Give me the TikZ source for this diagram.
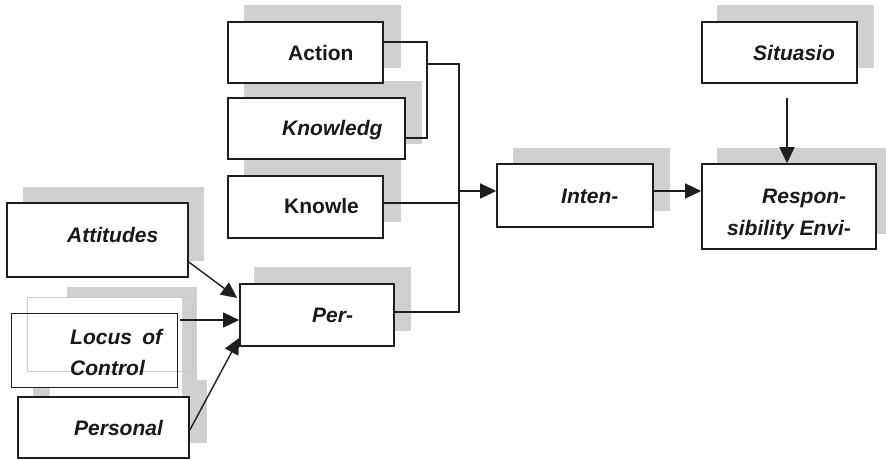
\documentclass[tikz,border=0pt]{standalone}
\usepackage{fontspec}
\setmainfont{Liberation Sans}
\usetikzlibrary{arrows.meta}
\definecolor{shadc}{RGB}{208,208,208}
\definecolor{boxc}{RGB}{30,30,30}
\definecolor{txtc}{RGB}{25,25,25}
\definecolor{thinc}{RGB}{200,200,200}
\begin{document}
\begin{tikzpicture}[x=1pt,y=-1pt,
  box/.style={draw=boxc, line width=1.6pt, fill=white, rectangle, inner sep=0pt},
  lbl/.style={font=\fontsize{21}{24}\selectfont\bfseries\itshape, text=txtc, anchor=base west, inner sep=0pt},
  lblup/.style={lbl, font=\fontsize{21}{24}\selectfont\bfseries},
  conn/.style={draw=boxc, line width=1.4pt},
  arr/.style={conn, -{Triangle[length=16pt,width=15pt]}}]
\useasboundingbox (0,0) rectangle (886,459);
% shadows
\fill[shadc] (244,5) rectangle (401,68);
\fill[shadc] (244,81) rectangle (422,144);
\fill[shadc] (244,160) rectangle (401,222);
\fill[shadc] (254,267) rectangle (411,331);
\fill[shadc] (513,148) rectangle (670,211);
\fill[shadc] (717,148) rectangle (886,234);
\fill[shadc] (717,5) rectangle (874,68);
\fill[shadc] (23,187) rectangle (204,261);
\fill[shadc] (33,380) rectangle (207,443);
\fill[shadc] (67,287) rectangle (197,380);
% boxes
\node[box, minimum width=155, minimum height=61] (act) at (305.5,52.5) {};
\node[box, minimum width=177, minimum height=61] (kn1) at (316.5,128.5) {};
\node[box, minimum width=155, minimum height=62] (kn2) at (305.5,207) {};
\node[box, minimum width=154, minimum height=62] (per) at (317,315) {};
\node[box, minimum width=156, minimum height=63] (inten) at (575,195.5) {};
\node[box, minimum width=174, minimum height=85] (resp) at (789,206.5) {};
\node[box, minimum width=155, minimum height=61] (sit) at (779.5,52.5) {};
\node[box, minimum width=181, minimum height=74] (att) at (97.5,240) {};
% locus group
\fill[white] (27,297) rectangle (182,371);
\fill[white] (50,371) rectangle (182,397);
\fill[white] (11,313) rectangle (177,387);
\draw[thinc, line width=0.8pt] (27,297) rectangle (193,371);
\node[draw=boxc, line width=0.9pt, rectangle, inner sep=0pt, minimum width=166, minimum height=74] (loc) at (94,350) {};
\node[box, minimum width=171, minimum height=61] (pers) at (103.5,427.5) {};
% labels
\node[lblup] (tact) at (288,60) {Action};
\node[lbl] (tkn1) at (282,135) {Knowledg};
\node[lblup] (tkn2) at (284,213) {Knowle};
\node[lbl] (tper) at (312,322) {Per-};
\node[lbl] (tint) at (561,203) {Inten-};
\node[lbl] (tres1) at (762,203) {Respon-};
\node[lbl] (tres2) at (727,235) {sibility Envi-};
\node[lbl] (tsit) at (753,60) {Situasio};
\node[lbl] (tatt) at (67,242) {Attitudes};
\node[lbl] (tloc1) at (70,344) {\makebox[92pt][s]{Locus of}};
\node[lbl] (tloc2) at (70,375) {Control};
\node[lbl] (tpers) at (74,435) {Personal};
% connection points
\coordinate (pact) at ([yshift=10.5pt]act.east);
\coordinate (pkn1) at ([yshift=-9.5pt]kn1.east);
\coordinate (pkn2) at ([yshift=4pt]kn2.east);
\coordinate (pper) at ([yshift=3pt]per.east);
\coordinate (ja) at (427,42);
\coordinate (jb) at (427,64);
\coordinate (jc) at (459,64);
\coordinate (jd) at (459,191);
\coordinate (psit) at ([xshift=7.5pt,yshift=-14pt]sit.south);
\coordinate (presn) at ([xshift=-2pt]resp.north);
% connectors
\draw[conn] (pact) -- (ja) -- (ja |- pkn1) -- (pkn1);
\draw[conn] (jb) -- (jc) -- (jc |- pper) -- (pper);
\draw[conn] (pkn2) -- (jc |- pkn2);
\draw[arr] (jd) -- ([yshift=4.5pt]inten.west);
\draw[arr] ([yshift=4.5pt]inten.east) -- ([yshift=15.5pt]resp.west);
\draw[arr] (psit) -- (presn);
\draw[arr] ([yshift=-22pt]att.east) -- ([yshift=17pt,xshift=-2pt]per.west);
\draw[arr] ([xshift=3pt,yshift=30pt]loc.east) -- ([yshift=-5pt]per.west);
\draw[arr] ([yshift=-2.5pt]pers.east) -- ([yshift=-23pt]per.west);
\end{tikzpicture}
\end{document}
